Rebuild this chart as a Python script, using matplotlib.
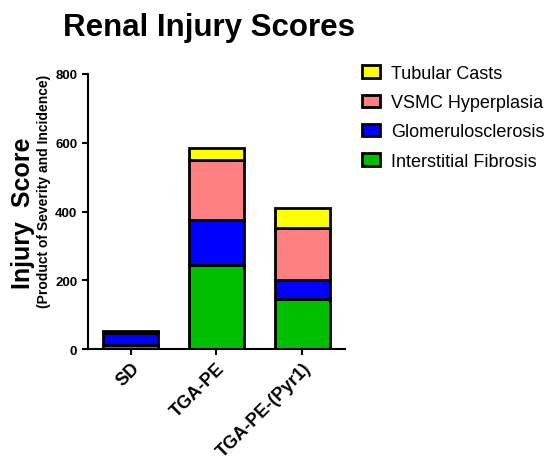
import matplotlib.pyplot as plt
import numpy as np

plt.rcParams['font.family'] = ['Liberation Sans', 'DejaVu Sans']

groups = ["SD", "TGA-PE", "TGA-PE-(Pyr1)"]
fibrosis = [12, 245, 145]
glomerulo = [35, 131, 57]
vsmc = [3, 175, 151]
casts = [2, 33, 57]

series = [
    ("Interstitial Fibrosis", fibrosis, "#00BF00"),
    ("Glomerulosclerosis", glomerulo, "#0000FF"),
    ("VSMC Hyperplasia", vsmc, "#FF8080"),
    ("Tubular Casts", casts, "#FFFF00"),
]

fig = plt.figure(figsize=(5.52, 4.6), dpi=100)
ax = fig.add_axes([0.159, 0.239, 0.466, 0.598])

x = np.arange(len(groups))
bottom = np.zeros(len(groups))
handles = []
for name, vals, clr in series:
    b = ax.bar(x, vals, 0.64, bottom=bottom, color=clr, edgecolor="black",
               linewidth=2, label=name)
    handles.append(b)
    bottom += np.array(vals)

ax.set_xlim(-0.5, 2.5)
ax.set_ylim(0, 800)
ax.set_yticks([0, 200, 400, 600, 800])
ax.set_xticks(x)
ax.set_xticklabels(groups, rotation=45, ha="right", rotation_mode="anchor",
                   fontsize=13, fontweight="bold")
for lab in ax.get_yticklabels():
    lab.set_fontweight("bold")
    lab.set_fontsize(9.5)
ax.spines["top"].set_visible(False)
ax.spines["right"].set_visible(False)
ax.spines["left"].set_linewidth(1.5)
ax.spines["bottom"].set_linewidth(1.5)
ax.tick_params(width=1.5, length=4, color="black")

fig.text(0.042, 0.537, "Injury  Score", rotation=90, ha="center", va="center",
         fontsize=18, fontweight="bold")
fig.text(0.08, 0.583, "(Product of Severity and Incidence)", rotation=90,
         ha="center", va="center", fontsize=10, fontweight="bold")
fig.text(0.378, 0.94, "Renal Injury Scores", ha="center", va="center",
         fontsize=22.5, fontweight="bold")

fig.legend(handles[::-1], [s[0] for s in series][::-1], loc="upper left",
           bbox_to_anchor=(0.626, 0.892), frameon=False, fontsize=13,
           handlelength=1.0, handleheight=0.7, labelspacing=0.68,
           handletextpad=0.6)

fig.savefig("out.png", dpi=100)
